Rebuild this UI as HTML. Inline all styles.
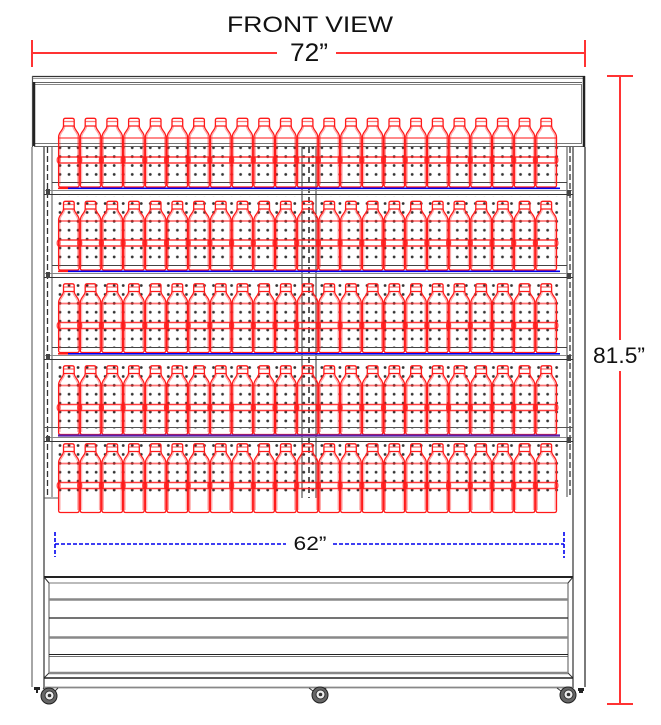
<!DOCTYPE html>
<html>
<head>
<meta charset="utf-8">
<style>
html,body{margin:0;padding:0;background:#fff;}
svg{display:block;}
text{font-family:"Liberation Sans",sans-serif;fill:#111;}
</style>
</head>
<body>
<svg width="661" height="725" viewBox="0 0 661 725" xmlns="http://www.w3.org/2000/svg">
<defs>
  <pattern id="d1" patternUnits="userSpaceOnUse" x="55.5" y="116.55" width="9.03" height="8.9"><circle cx="4.5" cy="4.45" r="1.4" fill="#333"/></pattern>
  <pattern id="d2" patternUnits="userSpaceOnUse" x="55.5" y="199.05" width="9.03" height="8.9"><circle cx="4.5" cy="4.45" r="1.4" fill="#333"/></pattern>
  <pattern id="d3" patternUnits="userSpaceOnUse" x="55.5" y="281.05" width="9.03" height="8.9"><circle cx="4.5" cy="4.45" r="1.4" fill="#333"/></pattern>
  <pattern id="d4" patternUnits="userSpaceOnUse" x="55.5" y="363.05" width="9.03" height="8.9"><circle cx="4.5" cy="4.45" r="1.4" fill="#333"/></pattern>
  <pattern id="d5" patternUnits="userSpaceOnUse" x="55.5" y="441.05" width="9.03" height="8.9"><circle cx="4.5" cy="4.45" r="1.4" fill="#333"/></pattern>

  <g id="b" fill="none" stroke="#ff1a1a" stroke-width="1.3">
    <path d="M5.5,8 V2 Q5.5,0.3 7.5,0.3 H14.2 Q16.2,0.3 16.2,2 V8 Z"/>
    <path d="M5.5,3.5 H16.2" stroke-opacity="0.6"/>
    <path d="M5.5,8 C5.5,12 0.6,14 0.6,19 V67 Q0.6,69 2.6,69 H19.1 Q21.1,69 21.1,67 V19 C21.1,14 16.2,12 16.2,8"/>
    <path d="M6.8,8.5 C6.8,12.5 2,14.5 2,19.5 V66.5 M14.9,8.5 C14.9,12.5 19.7,14.5 19.7,19.5 V66.5" stroke-opacity="0.4" stroke-width="1"/>
    <path d="M0.6,20 H21.1" stroke-opacity="0.6" stroke-width="1.8"/>
    <path d="M0.6,39 H21.1 M0.6,45 H21.1" stroke-opacity="0.85" stroke-width="1.4"/>
    <ellipse cx="0.6" cy="42" rx="1.4" ry="3" stroke-opacity="0.8"/>
    <ellipse cx="21.1" cy="42" rx="1.4" ry="3" stroke-opacity="0.8"/>
  </g>

  <g id="row">
    <use href="#b" x="58"/><use href="#b" x="79.7"/><use href="#b" x="101.4"/><use href="#b" x="123.1"/>
    <use href="#b" x="144.8"/><use href="#b" x="166.5"/><use href="#b" x="188.2"/><use href="#b" x="209.9"/>
    <use href="#b" x="231.6"/><use href="#b" x="253.3"/><use href="#b" x="275"/><use href="#b" x="296.7"/>
    <use href="#b" x="318.4"/><use href="#b" x="340.1"/><use href="#b" x="361.8"/><use href="#b" x="383.5"/>
    <use href="#b" x="405.2"/><use href="#b" x="426.9"/><use href="#b" x="448.6"/><use href="#b" x="470.3"/>
    <use href="#b" x="492"/><use href="#b" x="513.7"/><use href="#b" x="535.4"/>
  </g>

  <g id="caster">
    <circle cx="0" cy="0" r="8" fill="#666" stroke="#222" stroke-width="1"/>
    <circle cx="0.5" cy="-0.5" r="4.5" fill="#eee" stroke="#333" stroke-width="1"/>
    <circle cx="0.5" cy="-0.5" r="1.8" fill="#333"/>
  </g>
</defs>

<!-- Title -->
<text x="310" y="32" font-size="22" text-anchor="middle" textLength="166" lengthAdjust="spacingAndGlyphs">FRONT VIEW</text>
<text x="309" y="61" font-size="25" text-anchor="middle" textLength="38" lengthAdjust="spacingAndGlyphs">72”</text>

<!-- Top red dimension -->
<g stroke="#ff3333" stroke-width="2" fill="none">
  <line x1="32" y1="53" x2="277" y2="53"/>
  <line x1="336" y1="53" x2="585" y2="53"/>
  <line x1="32" y1="40" x2="32" y2="67"/>
  <line x1="585" y1="40" x2="585" y2="67"/>
  <line x1="620" y1="76" x2="620" y2="340"/>
  <line x1="620" y1="371" x2="620" y2="704"/>
  <line x1="607" y1="76" x2="633" y2="76"/>
  <line x1="607" y1="704" x2="633" y2="704"/>
</g>
<text x="619" y="363" font-size="22" text-anchor="middle" textLength="52" lengthAdjust="spacingAndGlyphs">81.5”</text>

<!-- Perforated back dots -->
<rect x="56" y="147" width="506" height="34.5" fill="url(#d1)"/>
<rect x="56" y="196" width="506" height="68" fill="url(#d2)"/>
<rect x="56" y="279" width="506" height="68" fill="url(#d3)"/>
<rect x="56" y="361" width="506" height="68" fill="url(#d4)"/>
<rect x="56" y="442" width="506" height="53" fill="url(#d5)"/>

<!-- Canopy -->
<g fill="none">
  <line x1="32" y1="76.5" x2="585" y2="76.5" stroke="#333" stroke-width="1.2"/>
  <line x1="32.5" y1="76" x2="32.5" y2="147" stroke="#555" stroke-width="1.2"/>
  <line x1="33" y1="78.5" x2="584" y2="78.5" stroke="#999" stroke-width="1"/>
  <line x1="34" y1="82.5" x2="582" y2="82.5" stroke="#666" stroke-width="1"/>
  <line x1="34" y1="84.5" x2="582" y2="84.5" stroke="#888" stroke-width="1"/>
  <line x1="34" y1="143.5" x2="582" y2="143.5" stroke="#777" stroke-width="1"/>
  <line x1="34" y1="146.5" x2="584" y2="146.5" stroke="#666" stroke-width="1"/>
  <line x1="34" y1="82" x2="34" y2="146" stroke="#222" stroke-width="2.5"/>
  <line x1="581.5" y1="84" x2="581.5" y2="144" stroke="#777" stroke-width="1"/>
  <line x1="584" y1="76" x2="584" y2="147" stroke="#222" stroke-width="2.5"/>
</g>

<!-- Cabinet sides -->
<g fill="none">
  <line x1="32" y1="147" x2="32" y2="687" stroke="#888" stroke-width="1.5"/>
  <line x1="44" y1="147" x2="44" y2="688" stroke="#333" stroke-width="1.2"/>
  <line x1="47.5" y1="147" x2="47.5" y2="497" stroke="#333" stroke-width="1.3" stroke-dasharray="6 3"/>
  <line x1="52" y1="147" x2="52" y2="497" stroke="#555" stroke-width="1"/>
  <line x1="44" y1="498" x2="58" y2="498" stroke="#555" stroke-width="1"/>

  <line x1="567" y1="147" x2="567" y2="497" stroke="#444" stroke-width="1"/>
  <line x1="570" y1="147" x2="570" y2="497" stroke="#333" stroke-width="1.3" stroke-dasharray="6 3"/>
  <line x1="573" y1="147" x2="573" y2="688" stroke="#333" stroke-width="1.2"/>
  <line x1="585" y1="147" x2="585" y2="687" stroke="#333" stroke-width="1.3"/>

  <line x1="302" y1="147" x2="302" y2="498" stroke="#333" stroke-width="1"/>
  <line x1="316" y1="147" x2="316" y2="498" stroke="#333" stroke-width="1"/>
  <line x1="309" y1="147" x2="309" y2="498" stroke="#222" stroke-width="1.5" stroke-dasharray="6 4"/>
</g>

<!-- Shelves -->
<g fill="none">
  <line x1="52" y1="182.5" x2="567" y2="182.5" stroke="#444" stroke-width="1"/>
  <line x1="44" y1="190.5" x2="573" y2="190.5" stroke="#888" stroke-width="1"/>
  <line x1="44" y1="194.5" x2="573" y2="194.5" stroke="#333" stroke-width="1"/>

  <line x1="52" y1="265.5" x2="567" y2="265.5" stroke="#444" stroke-width="1"/>
  <line x1="44" y1="273.5" x2="573" y2="273.5" stroke="#888" stroke-width="1"/>
  <line x1="44" y1="277.5" x2="573" y2="277.5" stroke="#333" stroke-width="1"/>

  <line x1="52" y1="347.5" x2="567" y2="347.5" stroke="#444" stroke-width="1"/>
  <line x1="44" y1="355.5" x2="573" y2="355.5" stroke="#888" stroke-width="1"/>
  <line x1="44" y1="359.5" x2="573" y2="359.5" stroke="#333" stroke-width="1"/>

  <line x1="44" y1="427.5" x2="573" y2="427.5" stroke="#555" stroke-width="1"/>
  <line x1="44" y1="437.5" x2="573" y2="437.5" stroke="#888" stroke-width="1"/>
  <line x1="44" y1="441.5" x2="573" y2="441.5" stroke="#333" stroke-width="1"/>

  <g fill="#444" stroke="none">
    <rect x="46" y="189" width="4" height="6"/><rect x="567" y="190" width="4" height="6"/>
    <rect x="46" y="272" width="4" height="6"/><rect x="567" y="273" width="4" height="6"/>
    <rect x="46" y="354" width="4" height="6"/><rect x="567" y="355" width="4" height="6"/>
    <rect x="46" y="436" width="4" height="6"/><rect x="567" y="437" width="4" height="6"/>
  </g>
</g>

<!-- Bottles -->
<use href="#row" y="118"/>
<use href="#row" y="201"/>
<use href="#row" y="283.5"/>
<use href="#row" y="365.5"/>
<use href="#row" y="443.5"/>

<!-- shelf front colour lines -->
<g fill="none">
  <line x1="68" y1="188.3" x2="560" y2="188.3" stroke="#0000ee" stroke-width="1.6"/>
  <line x1="58" y1="188.3" x2="68" y2="188.3" stroke="#ff1a1a" stroke-width="1.6"/>
  <line x1="68" y1="271.3" x2="560" y2="271.3" stroke="#0000ee" stroke-width="1.6"/>
  <line x1="58" y1="271.3" x2="68" y2="271.3" stroke="#ff1a1a" stroke-width="1.6"/>
  <line x1="68" y1="353.8" x2="560" y2="353.8" stroke="#0000ee" stroke-width="1.6"/>
  <line x1="58" y1="353.8" x2="68" y2="353.8" stroke="#ff1a1a" stroke-width="1.6"/>
  <line x1="58" y1="435.5" x2="560" y2="435.5" stroke="#5a1fa8" stroke-width="2.2"/>
</g>

<!-- 62 dimension -->
<g stroke="#0000ee" stroke-width="1.6" fill="none" stroke-dasharray="4 2">
  <line x1="55" y1="544" x2="286" y2="544"/>
  <line x1="333" y1="544" x2="564" y2="544"/>
  <line x1="55" y1="532" x2="55" y2="557"/>
  <line x1="564" y1="532" x2="564" y2="558"/>
</g>
<text x="310" y="550" font-size="19" text-anchor="middle" textLength="33" lengthAdjust="spacingAndGlyphs">62”</text>

<!-- Bottom grille -->
<g fill="none">
  <line x1="44" y1="577" x2="573" y2="577" stroke="#222" stroke-width="2"/>
  <line x1="49" y1="583" x2="568" y2="583" stroke="#777" stroke-width="1"/>
  <line x1="49" y1="583" x2="49" y2="673" stroke="#555" stroke-width="1"/>
  <line x1="568" y1="583" x2="568" y2="673" stroke="#555" stroke-width="1"/>
  <line x1="44" y1="577" x2="49" y2="583" stroke="#333" stroke-width="1"/>
  <line x1="573" y1="577" x2="568" y2="583" stroke="#333" stroke-width="1"/>
  <line x1="44" y1="678" x2="49" y2="673" stroke="#333" stroke-width="1"/>
  <line x1="573" y1="678" x2="568" y2="673" stroke="#333" stroke-width="1"/>
  <line x1="49" y1="599.5" x2="568" y2="599.5" stroke="#888" stroke-width="2.6"/>
  <line x1="49" y1="618" x2="568" y2="618" stroke="#222" stroke-width="1.2"/>
  <line x1="49" y1="637.5" x2="568" y2="637.5" stroke="#888" stroke-width="2.6"/>
  <line x1="49" y1="654.5" x2="568" y2="654.5" stroke="#222" stroke-width="1"/>
  <line x1="49" y1="656.5" x2="568" y2="656.5" stroke="#444" stroke-width="0.8"/>
  <line x1="49" y1="673" x2="568" y2="673" stroke="#888" stroke-width="2.4"/>
  <line x1="44" y1="678" x2="573" y2="678" stroke="#222" stroke-width="1.5"/>
  <line x1="44" y1="687.5" x2="573" y2="687.5" stroke="#888" stroke-width="1.8"/>
</g>

<!-- Feet -->
<rect x="34" y="687" width="6" height="3" fill="#222"/>
<rect x="36" y="689" width="2" height="4" fill="#222"/>
<rect x="578" y="688" width="6" height="3" fill="#222"/>
<rect x="579" y="690" width="4" height="3" fill="#222"/>

<!-- Casters -->
<g stroke="#333" stroke-width="1" fill="none">
  <path d="M43,688 L50,694"/><path d="M58,688 L52,694"/>
  <path d="M557,688 L565,694"/><path d="M572,688 L570,692"/>
  <path d="M309,688 L317,694"/><path d="M326,688 L324,692"/>
</g>
<use href="#caster" x="49" y="696"/>
<use href="#caster" x="568" y="695"/>
<use href="#caster" x="320" y="695"/>
</svg>
</body>
</html>
